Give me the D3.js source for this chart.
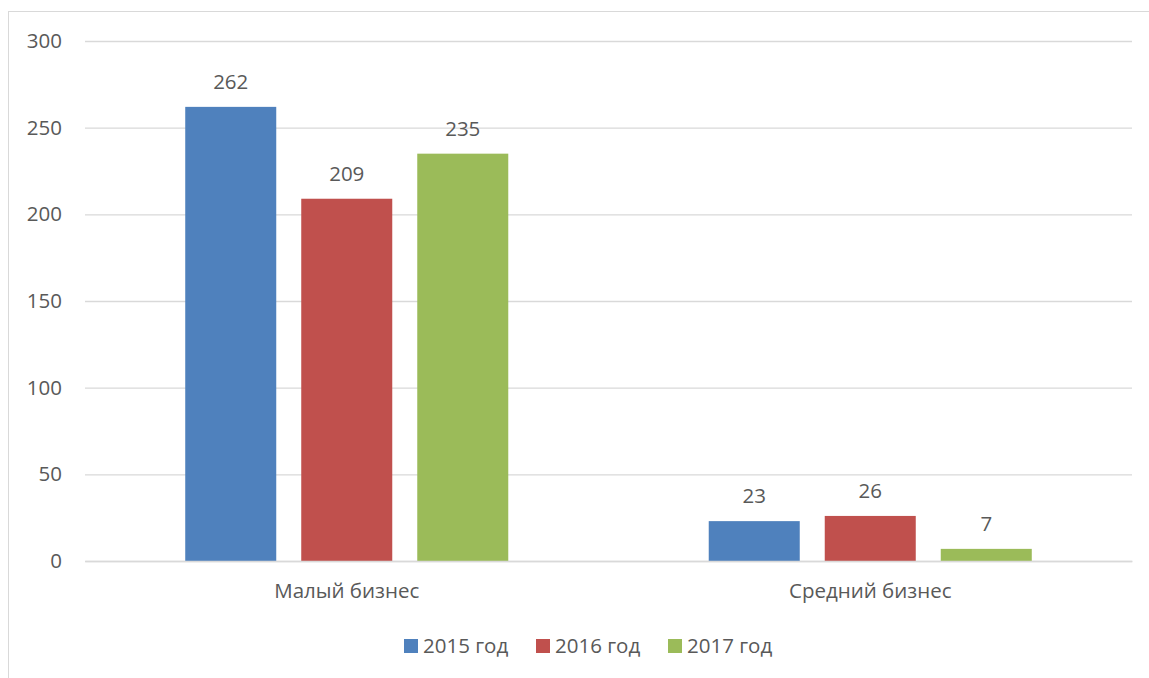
<!DOCTYPE html>
<html><head><meta charset="utf-8">
<script src="https://cdn.jsdelivr.net/npm/d3@7"></script>
<style>body{margin:0;background:#fff}svg{display:block}text{font-family:"Open Sans",sans-serif;fill:#595959}</style>
</head><body><svg id="c" width="1149" height="678"></svg>
<script>
const categories = ["Малый бизнес", "Средний бизнес"];
const seriesNames = ["2015 год", "2016 год", "2017 год"];
const values2015 = [262, 23];
const values2016 = [209, 26];
const values2017 = [235, 7];
const colors = ["#4F81BD", "#C0504D", "#9BBB59"];
const yTicks = [0, 50, 100, 150, 200, 250, 300];

(function () {
const seriesValues = [values2015, values2016, values2017];
const svg = d3.select("#c");
const pLeft = 85, pRight = 1132, pTop = 41, pBottom = 561;
const fs = 20.5;

svg.append("rect").attr("x", 8.5).attr("y", 11.5).attr("width", 1200).attr("height", 700)
  .attr("fill", "none").attr("stroke", "#D9D9D9").attr("stroke-width", 1);

const y = d3.scaleLinear().domain([0, 300]).range([pBottom, pTop]);
const x0 = d3.scaleBand().domain(categories).range([pLeft, pRight]).paddingInner(0).paddingOuter(0);
const x1 = d3.scaleBand().domain(seriesNames).range([0, x0.bandwidth()]).paddingInner(0.2155).paddingOuter(0.864);

const yAxis = d3.axisLeft(y).tickValues(yTicks).tickSize(-(pRight - pLeft)).tickPadding(20);
const gy = svg.append("g").attr("transform", `translate(${pLeft},0)`).call(yAxis);
gy.select(".domain").remove();
gy.selectAll(".tick line").attr("stroke", "#D9D9D9").attr("stroke-width", 1.3);
gy.selectAll(".tick text").attr("font-size", fs).attr("fill", "#595959").attr("x", -23);

const groups = svg.append("g").selectAll("g").data(categories).join("g")
  .attr("transform", d => `translate(${x0(d)},0)`);

seriesNames.forEach((s, si) => {
  groups.append("rect")
    .attr("x", x1(s)).attr("width", x1.bandwidth())
    .attr("y", (d, ci) => y(seriesValues[si][ci]))
    .attr("height", (d, ci) => y(0) - y(seriesValues[si][ci]))
    .attr("fill", colors[si]);
  groups.append("text")
    .attr("x", x1(s) + x1.bandwidth() / 2)
    .attr("y", (d, ci) => y(seriesValues[si][ci]) - 18)
    .attr("text-anchor", "middle").attr("font-size", fs)
    .text((d, ci) => seriesValues[si][ci]);
});

const xAxis = d3.axisBottom(x0).tickSize(0).tickPadding(22);
const gx = svg.append("g").attr("transform", `translate(0,${pBottom})`).call(xAxis);
gx.select(".domain").attr("stroke", "#D9D9D9").attr("stroke-width", 1.3);
gx.selectAll(".tick text").attr("font-size", fs).attr("fill", "#595959").attr("dy", null).attr("y", 37);

const legendX = [404, 536, 668];
const lg = svg.append("g").selectAll("g").data(seriesNames).join("g")
  .attr("transform", (d, i) => `translate(${legendX[i]},639)`);
lg.append("rect").attr("width", 14).attr("height", 14).attr("fill", (d, i) => colors[i]);
lg.append("text").attr("x", 19).attr("y", 14).attr("font-size", fs).text(d => d);
})();
</script></body></html>
